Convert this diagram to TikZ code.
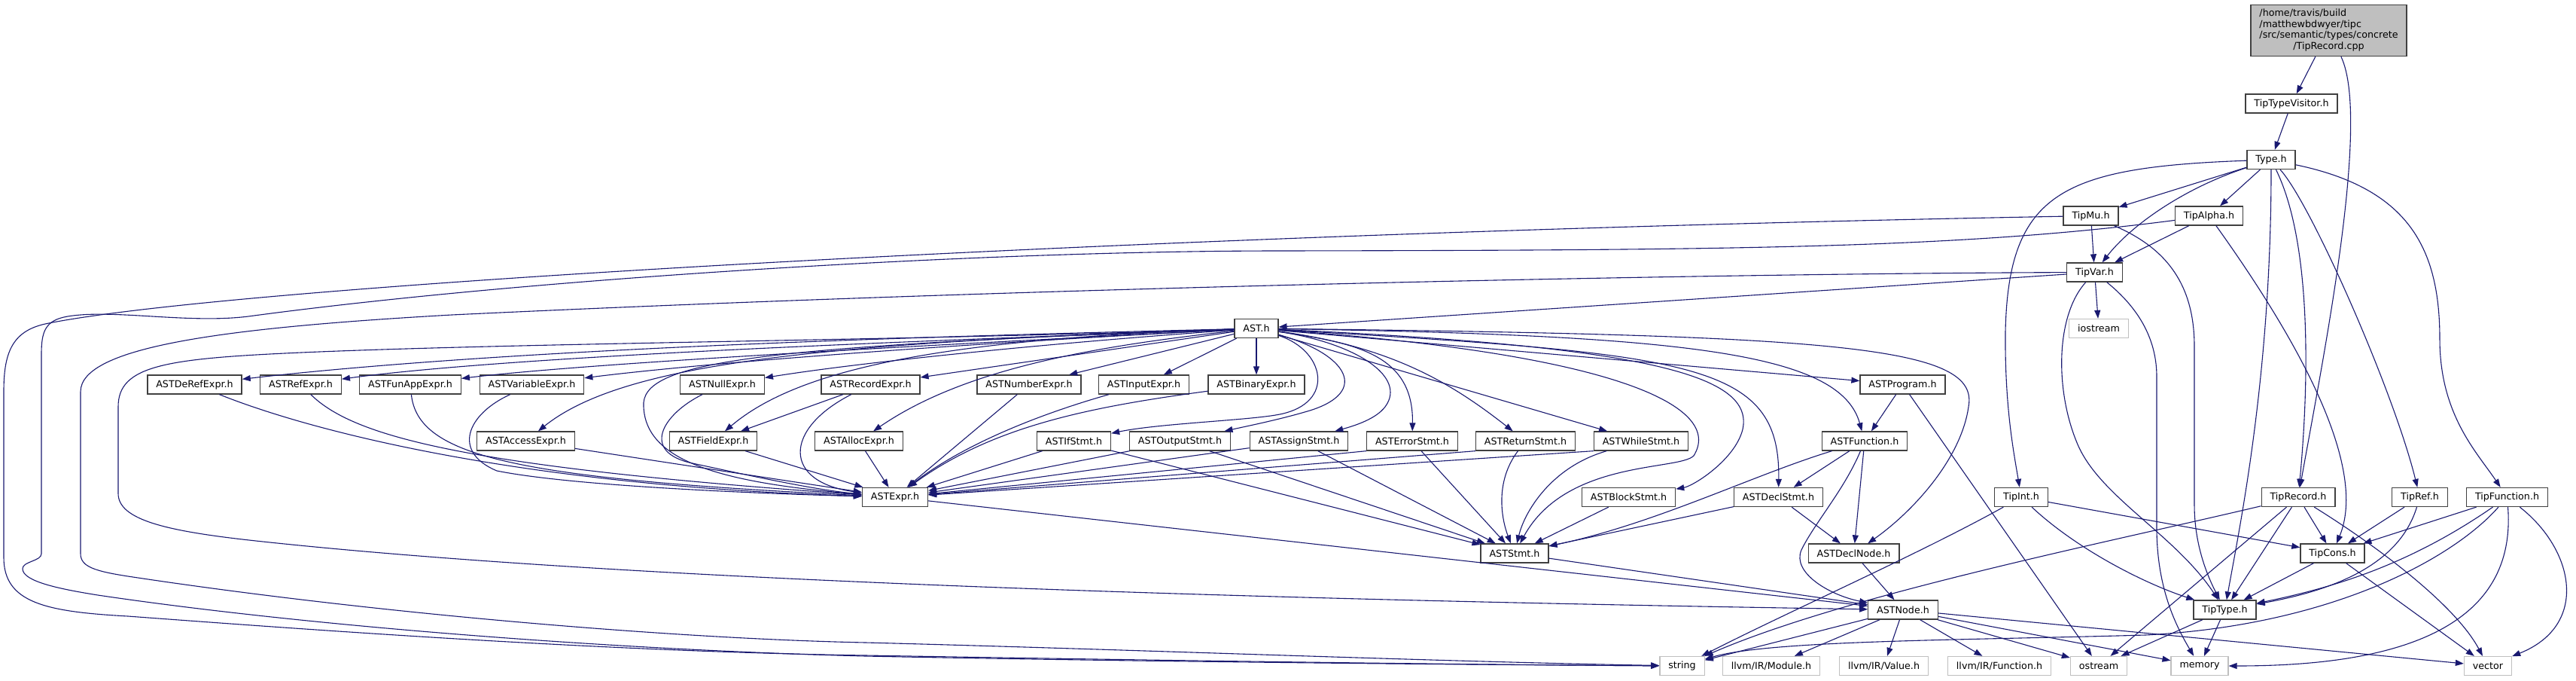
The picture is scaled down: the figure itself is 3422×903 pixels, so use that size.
\documentclass[tikz,border=0pt]{standalone}
\usepackage{fontspec}
\setmainfont{DejaVu Sans}
\usetikzlibrary{arrows.meta}
\definecolor{incblue}{RGB}{25,25,112}
\definecolor{boxframe}{RGB}{64,64,64}
\definecolor{sysframe}{RGB}{191,191,191}
\definecolor{mainfill}{RGB}{191,191,191}
\tikzset{
    % project header, dark frame
    hdr/.style={draw=boxframe, fill=white, line width=1.3pt, minimum height=25pt,
        inner xsep=11.4pt, inner ysep=0pt, font={\fontsize{12.7}{14.8}\selectfont}},
    % system or library header, grey frame
    syshdr/.style={hdr, draw=sysframe},
    % the file whose includes are drawn
    mainfile/.style={hdr, fill=mainfill, inner ysep=4.5pt},
    % include relation
    dep/.style={-{Triangle[length=11pt, width=8pt]}, line width=1.1pt, incblue},
}

\begin{document}
\begin{tikzpicture}[x=1pt, y=-1pt]
    \useasboundingbox (0,0) rectangle (3422,903);

    % ===== main file and type headers (right) =====
    \node[mainfile] (root) at (3093.5,40.5) {\begin{tabular}{@{}l@{}}/home/travis/build\\/matthewbdwyer/tipc\\/src/semantic/types/concrete\\\multicolumn{1}{@{}c@{}}{/TipRecord.cpp}\end{tabular}};
    \node[hdr] (tvis)  at (3044,137.5)   {TipTypeVisitor.h};
    \node[hdr] (type)  at (3017,212)     {Type.h};
    \node[hdr] (alpha) at (2934.5,286.5) {TipAlpha.h};
    \node[hdr] (mu)    at (2777.5,286.5) {TipMu.h};
    \node[hdr] (var)   at (2782.5,361.5) {TipVar.h};
    \node[syshdr] (iostream) at (2788,436) {iostream};
    \node[hdr] (tint)  at (2685,660)     {TipInt.h};
    \node[hdr] (trec)  at (3053,660)     {TipRecord.h};
    \node[hdr] (tref)  at (3214.5,660)   {TipRef.h};
    \node[hdr] (tfun)  at (3330.5,660)   {TipFunction.h};
    \node[hdr] (tcons) at (3098.5,734.5) {TipCons.h};
    \node[hdr] (ttype) at (2955.5,809.5) {TipType.h};

    % ===== AST headers =====
    \node[hdr] (ast)    at (1669,436)     {AST.h};
    \node[hdr] (deref)  at (258.5,510.5)  {ASTDeRefExpr.h};
    \node[hdr] (refx)   at (399.5,510.5)  {ASTRefExpr.h};
    \node[hdr] (funapp) at (545,510.5)    {ASTFunAppExpr.h};
    \node[hdr] (varx)   at (706.5,510.5)  {ASTVariableExpr.h};
    \node[hdr] (nullx)  at (959.5,510.5)  {ASTNullExpr.h};
    \node[hdr] (recx)   at (1156.5,510.5) {ASTRecordExpr.h};
    \node[hdr] (numx)   at (1367,510.5)   {ASTNumberExpr.h};
    \node[hdr] (inx)    at (1519.5,510.5) {ASTInputExpr.h};
    \node[hdr] (binx)   at (1669,510.5)   {ASTBinaryExpr.h};
    \node[hdr] (prog)   at (2527.5,510.5) {ASTProgram.h};
    \node[hdr] (access) at (698.5,585.5)  {ASTAccessExpr.h};
    \node[hdr] (field)  at (947.5,585.5)  {ASTFieldExpr.h};
    \node[hdr] (alloc)  at (1141,585.5)   {ASTAllocExpr.h};
    \node[hdr] (ifs)    at (1426.5,585.5) {ASTIfStmt.h};
    \node[hdr] (outs)   at (1567.5,585.5) {ASTOutputStmt.h};
    \node[hdr] (asgs)   at (1725.5,585.5) {ASTAssignStmt.h};
    \node[hdr] (errs)   at (1876,585.5)   {ASTErrorStmt.h};
    \node[hdr] (rets)   at (2026.5,585.5) {ASTReturnStmt.h};
    \node[hdr] (whls)   at (2180,585.5)   {ASTWhileStmt.h};
    \node[hdr] (func)   at (2477,585.5)   {ASTFunction.h};
    \node[hdr] (expr)   at (1189,660)     {ASTExpr.h};
    \node[hdr] (blks)   at (2163.5,660)   {ASTBlockStmt.h};
    \node[hdr] (decls)  at (2362.5,660)   {ASTDeclStmt.h};
    \node[hdr] (stmt)   at (2012,734.5)   {ASTStmt.h};
    \node[hdr] (decln)  at (2462.5,734.5) {ASTDeclNode.h};
    \node[hdr] (astnode) at (2528,809.5)  {ASTNode.h};

    % ===== system and llvm headers (bottom row) =====
    \node[syshdr] (string)  at (2234.5,884) {string};
    \node[syshdr] (module)  at (2353,884)   {llvm/IR/Module.h};
    \node[syshdr] (value)   at (2502.5,884) {llvm/IR/Value.h};
    \node[syshdr] (lfunc)   at (2656,884)   {llvm/IR/Function.h};
    \node[syshdr] (ostream) at (2788,884)   {ostream};
    \node[syshdr] (memory)  at (2922,884)   {memory};
    \node[syshdr] (vector)  at (3305,884)   {vector};

    % ===== includes of the type headers =====
    \draw[dep] (root) -- (tvis);
    \draw[dep] (root) .. controls (3150,160) and (3085,480) .. (trec);
    \draw[dep] (tvis) -- (type);
    \draw[dep] (type) -- (mu);
    \draw[dep] (type) -- (alpha);
    \draw[dep] (type) .. controls (2900,250) and (2830,300) .. (var);
    \draw[dep] (type) .. controls (2740,222) and (2668,255) .. (2664,440) .. controls (2663,540) and (2675,600) .. (tint);
    \draw[dep] (type) .. controls (3017,500) and (2975,700) .. (ttype);
    \draw[dep] (type) .. controls (3070,320) and (3068,500) .. (trec);
    \draw[dep] (type) .. controls (3070,270) and (3180,520) .. (tref);
    \draw[dep] (type) .. controls (3200,250) and (3241,330) .. (3241,450) .. controls (3241,550) and (3290,600) .. (tfun);
    \draw[dep] (mu) -- (var);
    \draw[dep] (mu) .. controls (2880,330) and (2915,380) .. (2915,460) -- (2915,670) .. controls (2915,720) and (2930,760) .. (ttype);
    \draw[dep] (alpha) -- (var);
    \draw[dep] (alpha) .. controls (3030,420) and (3150,610) .. (tcons);
    \draw[dep] (var) -- (iostream);
    \draw[dep] (var) -- (ast);
    \draw[dep] (var) .. controls (2730,420) and (2730,520) .. (2760,590) .. controls (2790,660) and (2890,710) .. (ttype);
    \draw[dep] (var) .. controls (2830,400) and (2865,440) .. (2865,500) -- (2865,700) .. controls (2865,780) and (2890,830) .. (memory);
    \draw[dep] (tint) -- (tcons);
    \draw[dep] (tint) .. controls (2760,730) and (2850,775) .. (ttype);
    \draw[dep] (tint) .. controls (2550,735) and (2380,810) .. (string);
    \draw[dep] (trec) -- (tcons);
    \draw[dep] (trec) -- (ttype);
    \draw[dep] (trec) -- (ostream);
    \draw[dep] (trec) .. controls (3150,720) and (3260,800) .. (vector);
    \draw[dep] (trec) .. controls (2800,720) and (2450,790) .. (string);
    \draw[dep] (tref) -- (tcons);
    \draw[dep] (tref) .. controls (3190,740) and (3120,780) .. (ttype);
    \draw[dep] (tfun) -- (tcons);
    \draw[dep] (tfun) .. controls (3200,750) and (3100,780) .. (ttype);
    \draw[dep] (tfun) .. controls (3420,730) and (3440,830) .. (vector);
    \draw[dep] (tfun) .. controls (3345,850) and (3150,884) .. (memory);
    \draw[dep] (tfun) .. controls (3260,740) and (3100,830) .. (2850,843) .. controls (2600,850) and (2350,850) .. (string);
    \draw[dep] (tcons) -- (ttype);
    \draw[dep] (tcons) -- (vector);
    \draw[dep] (ttype) -- (memory);
    \draw[dep] (ttype) -- (ostream);

    % long loops round the left edge into string
    \draw[dep] (mu) .. controls (1500,310) and (300,380) .. (60,430) .. controls (15,440) and (5,470) .. (5,520) -- (5,740) .. controls (5,800) and (60,812) .. (170,818) .. controls (400,835) and (800,865) .. (1150,870) .. controls (1500,876) and (1900,882) .. (string);
    \draw[dep] (alpha) .. controls (2600,330) and (2300,332) .. (1700,333) .. controls (1300,333) and (700,370) .. (330,420) .. controls (250,430) and (150,410) .. (90,420) .. controls (60,425) and (55,440) .. (55,470) -- (55,735) .. controls (55,745) and (30,745) .. (30,755) .. controls (30,772) and (80,782) .. (130,790) .. controls (400,830) and (800,862) .. (1150,871) .. controls (1500,878) and (1900,882) .. (string);
    \draw[dep] (var) .. controls (2300,363) and (1400,380) .. (600,418) .. controls (300,435) and (107,460) .. (107,520) -- (107,735) .. controls (107,752) and (125,758) .. (170,765) .. controls (500,815) and (900,848) .. (1150,853) .. controls (1500,862) and (1900,878) .. (string);

    % ===== AST.h fan-out =====
    \draw[dep] (ast) .. controls (1300,445) and (700,460) .. (deref);
    \draw[dep] (ast) .. controls (1300,450) and (700,470) .. (refx);
    \draw[dep] (ast) .. controls (1300,455) and (800,480) .. (funapp);
    \draw[dep] (ast) .. controls (1300,455) and (950,480) .. (varx);
    \draw[dep] (ast) .. controls (1400,455) and (1150,480) .. (nullx);
    \draw[dep] (ast) -- (recx);
    \draw[dep] (ast) -- (numx);
    \draw[dep] (ast) -- (inx);
    \draw[dep] (ast) -- (binx);
    \draw[dep] (ast) -- (prog);
    \draw[dep] (ast) .. controls (1100,455) and (830,480) .. (access);
    \draw[dep] (ast) .. controls (1250,450) and (1060,490) .. (field);
    \draw[dep] (ast) .. controls (1450,460) and (1280,490) .. (alloc);
    \draw[dep] (ast) .. controls (1760,465) and (1775,535) .. (1700,550) .. controls (1660,558) and (1540,562) .. (ifs);
    \draw[dep] (ast) .. controls (1790,470) and (1820,520) .. (1740,545) .. controls (1700,557) and (1655,566) .. (outs);
    \draw[dep] (ast) .. controls (1800,455) and (1870,500) .. (1840,540) .. controls (1828,556) and (1800,565) .. (asgs);
    \draw[dep] (ast) .. controls (1800,455) and (1878,470) .. (errs);
    \draw[dep] (ast) .. controls (1850,460) and (1930,510) .. (rets);
    \draw[dep] (ast) -- (whls);
    \draw[dep] (ast) .. controls (1000,460) and (850,480) .. (855,540) .. controls (858,610) and (950,640) .. (expr);
    \draw[dep] (ast) .. controls (2150,470) and (2290,540) .. (2250,605) .. controls (2230,625) and (2080,610) .. (stmt);
    \draw[dep] (ast) .. controls (2200,460) and (2330,500) .. (2315,570) .. controls (2305,610) and (2250,645) .. (blks);
    \draw[dep] (ast) .. controls (2250,470) and (2365,480) .. (decls);
    \draw[dep] (ast) .. controls (2450,445) and (2630,460) .. (2615,540) .. controls (2605,610) and (2540,680) .. (decln);
    \draw[dep] (ast) .. controls (2250,445) and (2445,470) .. (func);
    \draw[dep] (ast) .. controls (1200,452) and (700,455) .. (400,468) .. controls (220,476) and (157,485) .. (157,540) -- (157,655) .. controls (157,690) and (220,705) .. (340,718) .. controls (800,768) and (1600,795) .. (astnode);

    % ===== expressions into ASTExpr.h =====
    \draw[dep] (deref) .. controls (420,575) and (700,645) .. (expr);
    \draw[dep] (refx) .. controls (470,580) and (620,620) .. (expr);
    \draw[dep] (funapp) .. controls (555,605) and (680,635) .. (expr);
    \draw[dep] (varx) .. controls (620,550) and (600,600) .. (660,625) .. controls (760,645) and (1000,655) .. (expr);
    \draw[dep] (access) -- (expr);
    \draw[dep] (nullx) .. controls (880,550) and (850,600) .. (920,615) .. controls (990,630) and (1080,650) .. (expr);
    \draw[dep] (field) -- (expr);
    \draw[dep] (recx) -- (field);
    \draw[dep] (recx) .. controls (1040,570) and (1040,640) .. (expr);
    \draw[dep] (alloc) -- (expr);
    \draw[dep] (numx) -- (expr);
    \draw[dep] (inx) .. controls (1380,550) and (1280,590) .. (expr);
    \draw[dep] (binx) .. controls (1450,540) and (1320,565) .. (expr);
    \draw[dep] (ifs) -- (expr);
    \draw[dep] (outs) -- (expr);
    \draw[dep] (asgs) -- (expr);
    \draw[dep] (errs.south west) -- (expr);
    \draw[dep] (rets.south west) -- (expr);
    \draw[dep] (whls.south west) -- (expr);

    % ===== statements into ASTStmt.h =====
    \draw[dep] (ifs) -- (stmt);
    \draw[dep] (outs) -- (stmt);
    \draw[dep] (asgs) -- (stmt);
    \draw[dep] (errs) -- (stmt);
    \draw[dep] (rets) .. controls (1985,640) and (1995,690) .. (stmt);
    \draw[dep] (whls) .. controls (2060,620) and (2025,680) .. (stmt);
    \draw[dep] (blks) -- (stmt);
    \draw[dep] (decls) -- (stmt);
    \draw[dep] (func) .. controls (2330,630) and (2200,695) .. (stmt);

    % ===== program, function and node =====
    \draw[dep] (prog) -- (func);
    \draw[dep] (prog) -- (ostream);
    \draw[dep] (func) -- (decls);
    \draw[dep] (func) -- (decln);
    \draw[dep] (func) .. controls (2450,650) and (2410,695) .. (2393,730) .. controls (2380,760) and (2430,790) .. (astnode);
    \draw[dep] (decls) -- (decln);
    \draw[dep] (decln) -- (astnode);
    \draw[dep] (stmt) -- (astnode);
    \draw[dep] (expr) -- (astnode);
    \draw[dep] (astnode) -- (string);
    \draw[dep] (astnode) -- (module);
    \draw[dep] (astnode) -- (value);
    \draw[dep] (astnode) -- (lfunc);
    \draw[dep] (astnode) -- (ostream);
    \draw[dep] (astnode) -- (memory);
    \draw[dep] (astnode) -- (vector);

\end{tikzpicture}
\end{document}
